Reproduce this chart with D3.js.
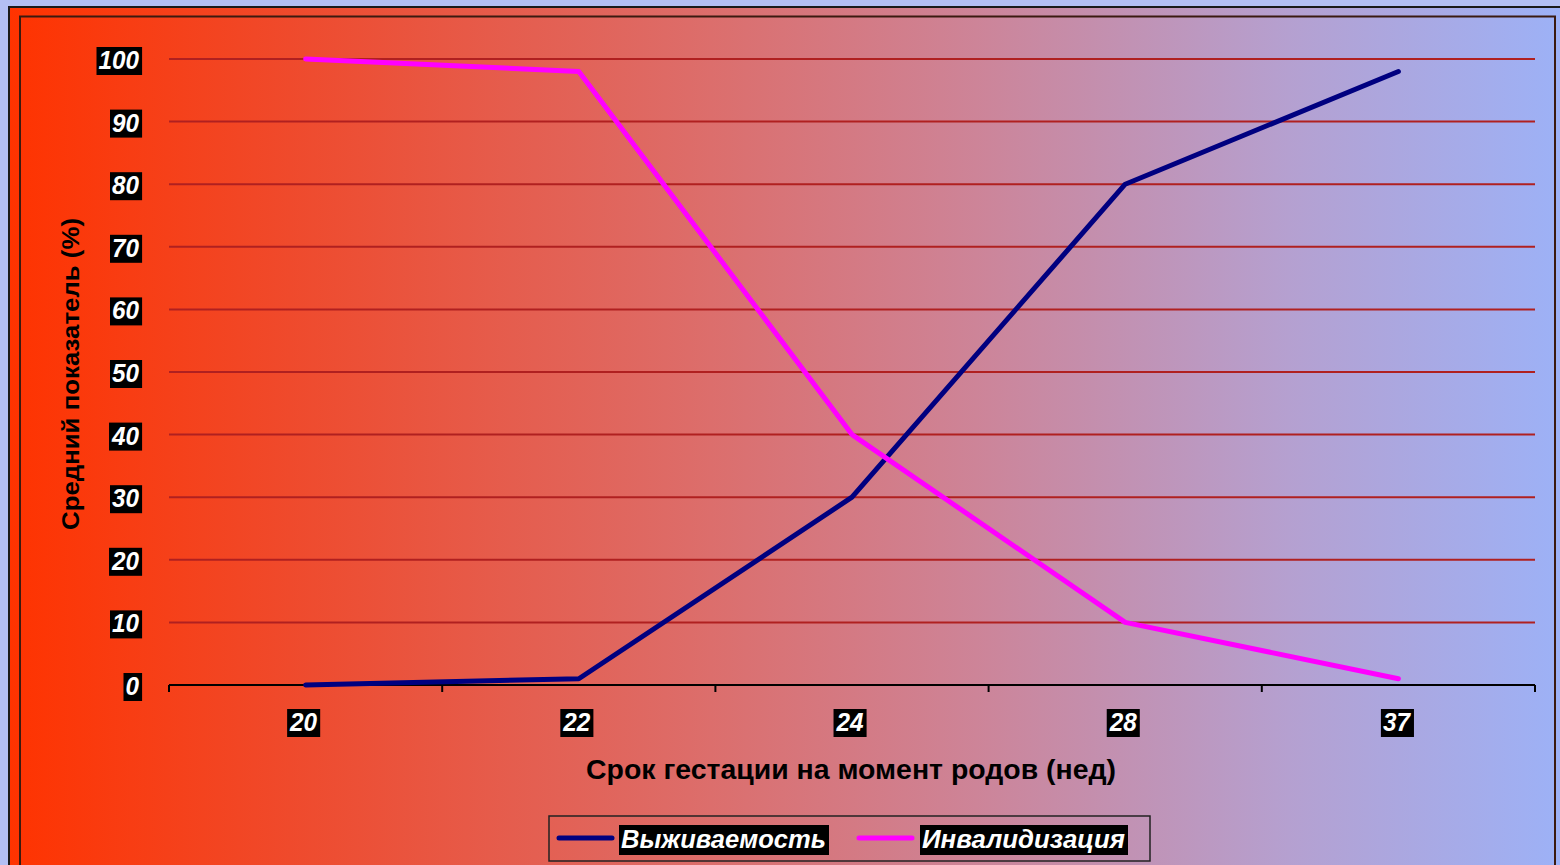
<!DOCTYPE html>
<html>
<head>
<meta charset="utf-8">
<script src="https://cdn.jsdelivr.net/npm/d3@7"></script>
<style>
  html, body { margin: 0; padding: 0; background: #b3bff3; }
  svg { display: block; }
</style>
</head>
<body>
<svg id="chart" width="1560" height="865"></svg>
<script>
// Gestational age at delivery (weeks)
const categories = ["20", "22", "24", "28", "37"];
// Survival, %
const survival = [0, 1, 30, 80, 98];
// Disability, %
const disability = [100, 98, 40, 10, 1];
const yTicks = [0, 10, 20, 30, 40, 50, 60, 70, 80, 90, 100];
const seriesNames = ["Выживаемость", "Инвалидизация"];
const seriesColors = ["#000080", "#ff00ff"];

const svg = d3.select("#chart");
const W = 1560, H = 865;
const FONT = "Liberation Sans, Arial, sans-serif";

// background gradient
const defs = svg.append("defs");
const grad = defs.append("linearGradient").attr("id", "bg").attr("x1", "0").attr("x2", "1").attr("y1", "0").attr("y2", "0");
grad.append("stop").attr("offset", "0%").attr("stop-color", "#ff3300");
grad.append("stop").attr("offset", "18%").attr("stop-color", "#ef4a2c");
grad.append("stop").attr("offset", "45%").attr("stop-color", "#dc6e6c");
grad.append("stop").attr("offset", "62%").attr("stop-color", "#cd8498");
grad.append("stop").attr("offset", "82%").attr("stop-color", "#b5a0d0");
grad.append("stop").attr("offset", "100%").attr("stop-color", "#9cb2f8");

svg.append("rect").attr("x", 9).attr("y", 7).attr("width", W).attr("height", H)
  .attr("fill", "url(#bg)").attr("stroke", "#1a1a1a").attr("stroke-width", 2);
svg.append("rect").attr("x", 20).attr("y", 16.5).attr("width", 1535).attr("height", H)
  .attr("fill", "none").attr("stroke", "#3a1a10").attr("stroke-width", 2);

const margin = { left: 169, right: 1535, top: 59, bottom: 685 };
const x = d3.scaleBand().domain(categories).range([margin.left, margin.right]);
const y = d3.scaleLinear().domain([0, 100]).range([margin.bottom, margin.top]);

// gridlines
svg.append("g").selectAll("line").data(yTicks.filter(d => d > 0)).join("line")
  .attr("x1", margin.left).attr("x2", margin.right)
  .attr("y1", d => y(d)).attr("y2", d => y(d))
  .attr("stroke", "#b02020").attr("stroke-width", 2);

// x axis line with tick marks at band edges
svg.append("line").attr("x1", margin.left).attr("x2", margin.right)
  .attr("y1", margin.bottom).attr("y2", margin.bottom)
  .attr("stroke", "#000").attr("stroke-width", 2);
const edges = categories.map(c => x(c)).concat([margin.right]);
svg.append("g").selectAll("line").data(edges).join("line")
  .attr("x1", d => d).attr("x2", d => d)
  .attr("y1", margin.bottom).attr("y2", margin.bottom + 7)
  .attr("stroke", "#000").attr("stroke-width", 2);

// white italic label on a black box
function boxedLabel(g, text, px, py, anchor, size, len) {
  const t = g.append("text").attr("x", px).attr("y", py)
    .attr("text-anchor", anchor).attr("dominant-baseline", "central")
    .attr("font-family", FONT)
    .attr("font-weight", "bold").attr("font-style", "italic")
    .attr("font-size", size).attr("fill", "#fff").text(text);
  if (len) t.attr("textLength", len).attr("lengthAdjust", "spacingAndGlyphs");
  const bb = t.node().getBBox();
  g.insert("rect", () => t.node())
    .attr("x", bb.x - 2).attr("y", bb.y + 1).attr("width", bb.width + 5).attr("height", bb.height)
    .attr("fill", "#000");
}

const yLab = svg.append("g");
yTicks.forEach(v => boxedLabel(yLab, v, 139, y(v) + 1, "end", 25, String(v).length * 13.5));
const xLab = svg.append("g");
categories.forEach(c => boxedLabel(xLab, c, x(c) + x.bandwidth() / 2 - 2, 722, "middle", 25, 27));

// axis titles
svg.append("text").attr("transform", "translate(70,374) rotate(-90)")
  .attr("text-anchor", "middle").attr("dominant-baseline", "central")
  .attr("font-family", FONT).attr("font-weight", "bold")
  .attr("font-size", 24).attr("fill", "#000")
  .attr("textLength", 312).attr("lengthAdjust", "spacingAndGlyphs")
  .text("Средний показатель (%)");
svg.append("text").attr("x", 851).attr("y", 770)
  .attr("text-anchor", "middle").attr("dominant-baseline", "central")
  .attr("font-family", FONT).attr("font-weight", "bold")
  .attr("font-size", 27).attr("fill", "#000")
  .attr("textLength", 530).attr("lengthAdjust", "spacingAndGlyphs")
  .text("Срок гестации на момент родов (нед)");

// series lines
const line = d3.line().x((d, i) => x(categories[i]) + x.bandwidth() / 2).y(d => y(d));
[survival, disability].forEach((s, i) => {
  svg.append("path").datum(s).attr("d", line)
    .attr("fill", "none").attr("stroke", seriesColors[i]).attr("stroke-width", 5)
    .attr("stroke-linejoin", "round").attr("stroke-linecap", "round");
});

// legend
const lg = svg.append("g");
lg.append("rect").attr("x", 549).attr("y", 816).attr("width", 601).attr("height", 45)
  .attr("fill", "none").attr("stroke", "#222").attr("stroke-width", 1.5);
const legendItems = [{ x0: 559, x1: 612, tx: 621, len: 205 }, { x0: 859, x1: 912, tx: 922, len: 203 }];
seriesNames.forEach((n, i) => {
  const it = legendItems[i];
  lg.append("line").attr("x1", it.x0).attr("x2", it.x1)
    .attr("y1", 838).attr("y2", 838).attr("stroke", seriesColors[i]).attr("stroke-width", 5)
    .attr("stroke-linecap", "round");
  boxedLabel(lg, n, it.tx, 839, "start", 26, it.len);
});
</script>
</body>
</html>
